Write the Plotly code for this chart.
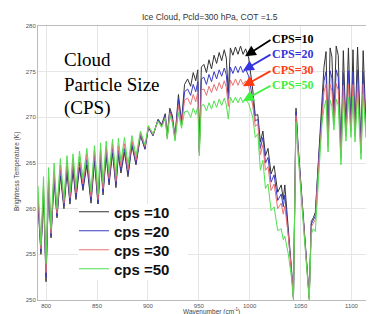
import plotly.graph_objects as go

# Wavenumber grid (cm^-1), shared by all four series
wavenumber = [
    792.0, 794.9, 797.4, 799.9, 802.4, 804.8, 807.8, 810.7, 814.0, 817.5,
    820.5, 823.4, 826.4, 829.3, 832.8, 836.2, 840.0, 844.1, 847.5, 851.0,
    853.5, 855.9, 859.0, 861.8, 865.2, 868.6, 871.0, 873.5, 877.0, 880.4,
    884.3, 888.3, 892.7, 897.1, 900.5, 905.0, 910.0, 913.5, 917.0, 919.0,
    921.5, 924.0, 926.6, 930.0, 933.0, 936.0, 939.0, 942.0, 944.5, 947.0,
    949.0, 950.5, 952.5, 955.0, 957.5, 960.0, 962.5, 965.0, 967.5, 970.0,
    972.5, 975.0, 977.0, 979.0, 981.0, 983.5, 986.0, 988.5, 991.0, 993.5,
    996.0, 999.0, 1003.0, 1005.5, 1008.0, 1010.5, 1013.0, 1015.5, 1018.0, 1021.0,
    1024.0, 1027.5, 1031.0, 1033.0, 1034.5, 1038.0, 1041.0, 1043.0, 1045.5, 1047.5,
    1053.0, 1058.5, 1060.5, 1062.5, 1064.5, 1067.0, 1069.0, 1071.0, 1073.0, 1075.0,
    1077.0, 1079.0, 1080.8, 1082.8, 1085.0, 1087.0, 1089.7, 1092.0, 1094.6, 1097.0,
    1099.5, 1101.5, 1103.5, 1106.0, 1109.4, 1111.5, 1114.3, 1116.5, 1119.2, 1121.5,
    1124.1, 1126.5, 1129.0, 1131.0,
]

# Brightness temperature (K) for each cloud particle size
bt_cps10 = [
    260.5, 255.0, 261.5, 252.0, 262.5, 256.8, 263.0, 259.0, 263.6, 260.0,
    264.0, 260.5, 264.2, 261.0, 264.5, 262.0, 264.8, 260.6, 265.2, 260.3,
    265.5, 261.5, 265.8, 262.6, 266.1, 262.3, 265.9, 263.9, 266.2, 263.5,
    266.9, 264.8, 268.0, 266.5, 268.9, 268.0, 269.8, 269.2, 270.4, 268.0,
    271.0, 270.2, 267.8, 272.5, 269.5, 273.6, 274.2, 273.4, 274.9, 274.0,
    275.2, 266.5, 275.5, 275.8, 274.9, 276.3, 275.3, 276.8, 275.9, 277.1,
    276.2, 277.4, 276.5, 272.7, 277.6, 276.8, 277.7, 276.9, 277.8, 276.9,
    277.5, 276.5, 273.0, 270.2, 270.3, 267.3, 268.5, 265.8, 266.6, 263.8,
    264.7, 261.8, 262.6, 261.0, 262.6, 258.0, 253.5, 250.3, 271.0, 267.0,
    258.6, 250.3, 258.6, 259.0, 259.6, 264.5, 268.0, 272.5, 275.5, 277.2,
    267.5, 277.6, 276.6, 270.0, 277.8, 276.8, 266.0, 277.3, 268.6, 277.6,
    269.0, 277.4, 268.5, 277.7, 266.6, 277.3, 269.0, 277.6, 270.0, 277.4,
    264.6, 277.5, 276.6, 277.6,
]
bt_cps20 = [
    261.0, 255.3, 262.0, 252.5, 263.0, 257.0, 263.6, 259.2, 264.2, 260.3,
    264.6, 260.8, 264.8, 261.3, 265.1, 262.3, 265.4, 260.9, 265.8, 260.6,
    266.0, 261.8, 266.3, 262.9, 266.6, 262.6, 266.4, 264.2, 266.6, 263.8,
    267.2, 265.0, 268.1, 266.6, 268.9, 268.0, 269.7, 269.1, 270.2, 267.9,
    270.7, 269.9, 267.7, 272.0, 269.3, 272.8, 273.1, 272.4, 273.6, 272.8,
    273.9, 266.3, 274.2, 274.4, 273.6, 274.7, 273.9, 275.0, 274.2, 275.2,
    274.5, 275.4, 274.7, 272.0, 275.5, 274.8, 275.6, 274.9, 275.6, 274.9,
    275.3, 274.5, 272.0, 269.6, 269.8, 266.6, 267.8, 265.0, 265.6, 262.9,
    263.7, 260.9, 261.6, 260.2, 261.5, 257.5, 253.3, 250.2, 270.6, 266.7,
    258.4, 250.2, 258.3, 258.8, 259.2, 264.0, 267.5, 271.5, 274.0, 275.0,
    267.2, 275.1, 274.3, 269.6, 275.2, 274.4, 265.7, 274.9, 268.3, 275.1,
    268.7, 275.0, 268.2, 275.2, 266.3, 275.0, 268.7, 275.2, 269.7, 275.1,
    264.3, 275.2, 274.5, 275.2,
]
bt_cps30 = [
    261.5, 255.6, 262.5, 253.0, 263.5, 257.3, 264.1, 259.5, 264.8, 260.6,
    265.2, 261.2, 265.4, 261.7, 265.7, 262.7, 266.0, 261.3, 266.4, 261.0,
    266.5, 262.2, 266.8, 263.3, 267.1, 263.0, 266.9, 264.6, 267.1, 264.2,
    267.5, 265.3, 268.3, 266.8, 269.0, 268.1, 269.6, 269.0, 270.0, 267.8,
    270.5, 269.7, 267.6, 271.3, 269.1, 271.9, 272.1, 271.4, 272.5, 271.7,
    272.8, 266.1, 273.0, 273.1, 272.4, 273.4, 272.7, 273.6, 272.9, 273.8,
    273.1, 274.0, 273.3, 271.2, 274.1, 273.5, 274.2, 273.5, 274.2, 273.6,
    274.0, 273.4, 271.3, 269.0, 269.3, 265.9, 267.0, 264.2, 264.6, 262.0,
    262.7, 260.0, 260.6, 259.4, 260.3, 257.0, 253.1, 250.1, 270.2, 266.4,
    258.2, 250.1, 258.0, 258.5, 258.8, 263.5, 267.0, 270.5, 272.8, 273.6,
    266.8, 273.6, 272.9, 269.2, 273.7, 273.0, 265.4, 273.5, 268.0, 273.6,
    268.4, 273.6, 267.9, 273.7, 266.0, 273.6, 268.4, 273.7, 269.4, 273.7,
    264.0, 273.8, 273.2, 273.8,
]
bt_cps50 = [
    262.5, 256.0, 263.5, 254.0, 264.5, 257.8, 265.0, 260.0, 265.5, 261.0,
    265.8, 261.8, 266.0, 262.3, 266.3, 263.3, 266.6, 261.9, 266.9, 261.6,
    267.2, 262.8, 267.4, 263.9, 267.6, 263.6, 267.7, 265.2, 267.8, 264.8,
    268.0, 265.8, 268.5, 267.0, 269.1, 268.2, 269.6, 268.9, 269.9, 267.6,
    270.2, 269.4, 267.4, 270.5, 268.8, 270.6, 270.7, 270.0, 271.0, 270.3,
    271.2, 265.8, 271.3, 271.4, 270.7, 271.6, 270.9, 271.8, 271.1, 272.0,
    271.3, 272.1, 271.4, 269.8, 272.2, 271.6, 272.2, 271.6, 272.2, 271.6,
    272.0, 271.5, 270.0, 267.8, 268.2, 264.2, 265.3, 262.2, 262.7, 259.8,
    260.2, 257.6, 257.8, 256.6, 257.0, 255.0, 252.5, 250.0, 269.5, 266.0,
    257.8, 250.0, 257.2, 257.8, 257.5, 262.5, 266.0, 269.3, 271.0, 271.9,
    266.2, 271.9, 271.2, 268.6, 272.0, 271.3, 264.8, 272.1, 267.4, 272.2,
    267.8, 272.3, 267.3, 272.4, 265.4, 272.5, 267.8, 272.6, 268.8, 272.7,
    263.4, 272.8, 272.2, 272.9,
]

series_names = ["cps =10", "cps =20", "cps =30", "cps =50"]
series_values = [bt_cps10, bt_cps20, bt_cps30, bt_cps50]
series_colors = ["#333333", "#3b3bc8", "#ea7070", "#4fe04f"]

x_ticks = [800, 850, 900, 950, 1000, 1050, 1100]
y_ticks = [250, 255, 260, 265, 270, 275, 280]

label_texts = ["CPS=10", "CPS=20", "CPS=30", "CPS=50"]
label_colors = ["#000000", "#3434e0", "#ff3a10", "#3cf03c"]
arrow_heads_wn = [995.4, 993.4, 993.4, 993.4]
arrow_heads_bt = [276.7, 275.1, 273.4, 271.8]

W, H = 374, 314
L, R, T, B = 30, 0, 18, 22
pw, ph = W - L - R, H - T - B

def px(xp):
    return (xp - L) / pw

def py(yp):
    return (H - B - yp) / ph

legend_ids = ["legend", "legend2", "legend3", "legend4"]
legend_centers = [204, 223, 242, 261]

fig = go.Figure()
for name, vals, col, lid in zip(series_names, series_values, series_colors, legend_ids):
    fig.add_trace(go.Scatter(x=wavenumber, y=vals, mode="lines", name=name, legend=lid,
                             line=dict(color=col, width=1)))

legend_layout = {}
for lid, cy in zip(legend_ids, legend_centers):
    legend_layout[lid] = dict(x=px(66), y=py(cy), xanchor="left", yanchor="middle",
                              bgcolor="rgba(0,0,0,0)", borderwidth=0,
                              font=dict(family="Liberation Sans, Arial", size=15,
                                        color="#111", weight="bold"))

# white backdrop behind the legend entries (the legend box of the original)
shapes = [dict(type="rect", xref="paper", yref="paper", layer="above",
               x0=px(70), x1=px(180), y0=py(272), y1=py(196),
               fillcolor="white", line=dict(width=0))]

ann = []
ann.append(dict(text="Ice Cloud, Pcld=300 hPa, COT =1.5", x=px(202), y=py(9.5),
                xref="paper", yref="paper", showarrow=False, xanchor="center", yanchor="middle",
                font=dict(family="Liberation Sans, Arial", size=8.5, color="#333")))
ann.append(dict(text="Wavenumber (cm<sup>-1</sup>)", x=px(203), y=py(303),
                xref="paper", yref="paper", showarrow=False, xanchor="center", yanchor="middle",
                font=dict(family="Liberation Sans, Arial", size=6.5, color="#444")))
ann.append(dict(text="Brightness Temperature (K)", x=px(9), y=py(164), textangle=-90,
                xref="paper", yref="paper", showarrow=False, xanchor="center", yanchor="middle",
                font=dict(family="Liberation Sans, Arial", size=6.5, color="#444")))
for txt, yy in zip(["Cloud", "Particle Size", "(CPS)"], [52, 76, 100]):
    ann.append(dict(text=txt, x=px(54), y=py(yy), xref="paper", yref="paper", showarrow=False,
                    xanchor="left", yanchor="middle",
                    font=dict(family="Liberation Serif, Times New Roman", size=19, color="#000")))
tails = [(264, 31), (264, 46), (264, 62), (264, 77)]
heads_px = [(237, 48), (235, 63), (235, 78), (235, 93)]
for txt, col, hx, hy, tl, hp in zip(label_texts, label_colors, arrow_heads_wn, arrow_heads_bt, tails, heads_px):
    ann.append(dict(text="", x=hx, y=hy, xref="x", yref="y", showarrow=True,
                    ax=tl[0] - hp[0], ay=tl[1] - hp[1], arrowcolor=col,
                    arrowhead=2, arrowsize=1.2, arrowwidth=1.8, standoff=0))
    ann.append(dict(text="<b>" + txt + "</b>", x=px(tl[0] - 2), y=py(tl[1]), xref="paper", yref="paper",
                    showarrow=False, xanchor="left", yanchor="middle",
                    font=dict(family="Liberation Serif, Times New Roman", size=12, color=col)))

fig.update_layout(
    width=W, height=H,
    margin=dict(l=L, r=R, t=T, b=B),
    paper_bgcolor="white", plot_bgcolor="white",
    showlegend=True,
    annotations=ann,
    shapes=shapes,
    **legend_layout,
)
fig.update_xaxes(range=[792, 1130], tickvals=x_ticks, ticktext=[str(v) for v in x_ticks],
                 showgrid=True, gridcolor="#e6e6e6", gridwidth=1,
                 showline=True, linecolor="#bbbbbb", mirror=True, linewidth=1,
                 ticks="", zeroline=False, automargin=False,
                 tickfont=dict(family="Liberation Sans, Arial", size=6, color="#555"))
fig.update_yaxes(range=[250, 280], tickvals=y_ticks, ticktext=[str(v) for v in y_ticks],
                 showgrid=True, gridcolor="#e6e6e6", gridwidth=1,
                 showline=True, linecolor="#bbbbbb", linewidth=1,
                 ticks="", zeroline=False, automargin=False,
                 tickfont=dict(family="Liberation Sans, Arial", size=6, color="#555"))

fig.write_html("out.html")
